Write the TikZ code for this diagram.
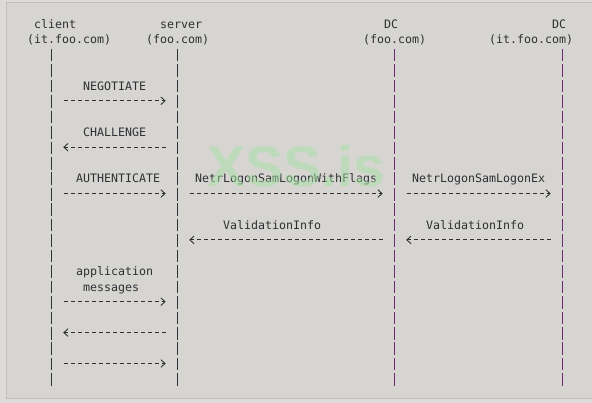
\documentclass[tikz,border=0pt]{standalone}
\usepackage{fontspec}
\setmonofont{DejaVu Sans Mono}
\newfontfamily\wmfont{Liberation Sans}
\usetikzlibrary{arrows.meta}
\definecolor{outerbg}{RGB}{220,219,216}
\definecolor{bg}{RGB}{214,213,209}
\definecolor{frame}{RGB}{192,191,187}
\definecolor{ink}{RGB}{45,47,52}
\definecolor{lifeA}{RGB}{45,52,58}
\definecolor{lifeB}{RGB}{110,42,112}
\definecolor{wmgreen}{RGB}{165,225,165}
\tikzset{
  txt/.style={anchor=base west, inner sep=0pt, outer sep=0pt, text=ink,
    font=\ttfamily\fontsize{11.63}{14}\selectfont},
  lifeline/.style={line width=1.2pt, dash pattern=on 12.6pt off 2.85pt},
  msg/.style={draw=ink, line width=0.9pt, dash pattern=on 4pt off 3pt,
    -{Straight Barb[length=4.2pt,width=7.6pt,line width=0.9pt]}},
  wm/.style={anchor=base, inner sep=0pt, text=wmgreen, text opacity=0.5,
    font=\wmfont\bfseries\fontsize{57}{60}\selectfont}
}
% column left edge and row centre
\newcommand\cx[1]{(48.2+7*(#1))}
\newcommand\ry[1]{(24.3+15.45*(#1))}
% text at column, row
\newcommand\tx[4]{\node[txt] (#1) at ({\cx{#2}},{\ry{#3}+4.2}) {#4};}
% right-going message: name, row, first dash col, last dash col
\newcommand\rmsg[4]{%
  \coordinate (#1s) at ({\cx{#3}+1.5},{\ry{#2}-0.7});
  \coordinate (#1e) at ({\cx{#4+1}+5.5},{\ry{#2}-0.7});
  \draw[msg] (#1s) -- (#1e);}
% left-going message: name, row, '<' col, last dash col
\newcommand\lmsg[4]{%
  \coordinate (#1s) at ({\cx{#4}+5.5},{\ry{#2}-0.7});
  \coordinate (#1e) at ({\cx{#3}+1},{\ry{#2}-0.7});
  \draw[msg] (#1s) -- (#1e);}
\begin{document}
\begin{tikzpicture}[x=1pt,y=-1pt]
\useasboundingbox (0,0) rectangle (592,403);
\fill[outerbg] (0,0) rectangle (592,403);
\filldraw[fill=bg, draw=frame, line width=1pt] (6.5,2.5) rectangle (600,398.5);

% headers
\tx{hc1}{-2}{0}{client}
\tx{hc2}{-3}{1}{(it.foo.com)}
\tx{hs1}{16}{0}{server}
\tx{hs2}{14}{1}{(foo.com)}
\tx{hd1}{48}{0}{DC}
\tx{hd2}{45}{1}{(foo.com)}
\tx{he1}{72}{0}{DC}
\tx{he2}{63}{1}{(it.foo.com)}

% lifelines
\coordinate (clTop) at (51.7,48.9);  \coordinate (clBot) at (51.7,386);
\coordinate (svTop) at (177.7,48.9); \coordinate (svBot) at (177.7,386);
\coordinate (dcTop) at (394.7,48.9); \coordinate (dcBot) at (394.7,386);
\coordinate (deTop) at (562.7,48.9); \coordinate (deBot) at (562.7,386);
\draw[lifeline, lifeA] (clTop) -- (clBot);
\draw[lifeline, lifeA] (svTop) -- (svBot);
\draw[lifeline, lifeB] (dcTop) -- (dcBot);
\draw[lifeline, lifeB] (deTop) -- (deBot);

% labels
\tx{lneg}{5}{4}{NEGOTIATE}
\tx{lcha}{5}{7}{CHALLENGE}
\tx{laut}{4}{10}{AUTHENTICATE}
\tx{lnwf}{21}{10}{NetrLogonSamLogonWithFlags}
\tx{lnex}{52}{10}{NetrLogonSamLogonEx}
\tx{lvi1}{25}{13}{ValidationInfo}
\tx{lvi2}{54}{13}{ValidationInfo}
\tx{lap1}{4}{16}{application}
\tx{lap2}{5}{17}{messages}

% messages
\rmsg{m1}{5}{2}{15}
\lmsg{m2}{8}{2}{16}
\rmsg{m3}{11}{2}{15}
\rmsg{m4}{11}{20}{46}
\rmsg{m5}{11}{51}{70}
\lmsg{m6}{14}{20}{47}
\lmsg{m7}{14}{51}{71}
\rmsg{m8}{18}{2}{15}
\lmsg{m9}{20}{2}{16}
\rmsg{m10}{22}{2}{15}

% watermark
\node[wm] (wmark) at (296.5,187) {XSS.is};
\end{tikzpicture}
\end{document}
